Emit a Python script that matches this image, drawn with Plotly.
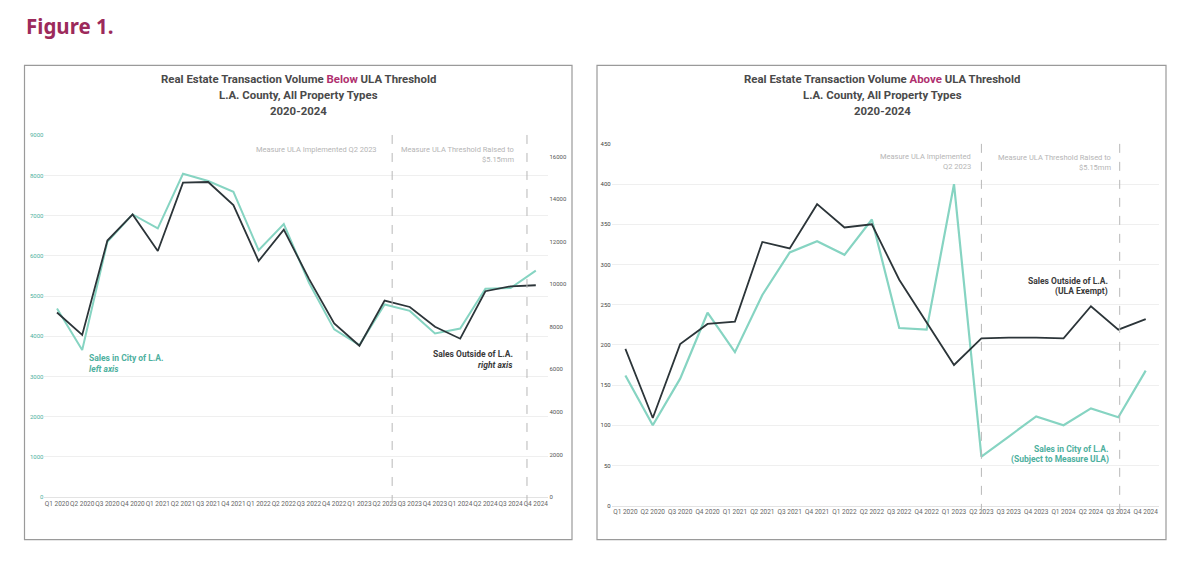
import plotly.graph_objects as go

W, H = 1200, 579
OFF = 8  # page body margin of the html page

quarters = [f"Q{q} {y}" for y in range(2020, 2025) for q in range(1, 5)]

# left chart: sales below threshold (city on left axis, outside on right axis)
below_city = [4690, 3660, 6350, 7030, 6680, 8040, 7860, 7590, 6140, 6790,
              5330, 4170, 3780, 4790, 4630, 4070, 4190, 5180, 5200, 5630]
below_outside = [8670, 7620, 12050, 13280, 11560, 14770, 14800, 13720, 11090, 12560,
                 10250, 8160, 7110, 9230, 8930, 8000, 7440, 9670, 9900, 9950]

# right chart: sales above threshold
above_city = [162, 100, 158, 240, 191, 262, 315, 329, 312, 356,
              221, 219, 400, 61, 86, 111, 100, 121, 110, 168]
above_outside = [195, 109, 201, 226, 229, 328, 320, 375, 346, 350,
                 281, 228, 175, 208, 209, 209, 208, 248, 219, 232]

left_ticks = list(range(0, 9001, 1000))
right_ticks = list(range(0, 16001, 2000))
above_ticks = list(range(0, 451, 50))

TEAL = "#86D4C2"
TEAL_TXT = "#4DB09E"
DARK = "#2C3539"
MAG = "#B0306F"
GREY_TXT = "#B5B5B5"
FONT = "Roboto"


def px(x):
    return (x - OFF) / W


def py(y):
    return 1 - (y - OFF) / H


fig = go.Figure()

fig.add_trace(go.Scatter(x=quarters, y=below_city, mode="lines",
                         line=dict(color=TEAL, width=2), xaxis="x", yaxis="y"))
fig.add_trace(go.Scatter(x=quarters, y=below_outside, mode="lines",
                         line=dict(color=DARK, width=1.8), xaxis="x", yaxis="y2"))
fig.add_trace(go.Scatter(x=quarters, y=above_city, mode="lines",
                         line=dict(color=TEAL, width=2.2), xaxis="x2", yaxis="y3"))
fig.add_trace(go.Scatter(x=quarters, y=above_outside, mode="lines",
                         line=dict(color=DARK, width=1.8), xaxis="x2", yaxis="y3"))

xcommon = dict(type="category", range=[-0.5, 19.5], tickangle=0,
               tickfont=dict(size=6.5, color="#666", family=FONT),
               showgrid=False, showline=True, linecolor="#e3e3e3",
               ticks="", zeroline=False)

fig.update_layout(
    width=W, height=H,
    margin=dict(l=0, r=0, t=0, b=0),
    paper_bgcolor="white", plot_bgcolor="white",
    showlegend=False,
    font=dict(family=FONT),
    xaxis=dict(domain=[px(44.4), px(548.4)], anchor="y", **xcommon),
    yaxis=dict(domain=[py(499), py(132.7)], range=[0, 9000], tickvals=left_ticks,
               tickfont=dict(size=6, color=TEAL_TXT, family=FONT),
               showgrid=True, gridcolor="#efefef", zeroline=False, ticks=""),
    yaxis2=dict(overlaying="y", side="right", anchor="x", range=[0, 17000],
                tickvals=right_ticks, tickformat="d",
                tickfont=dict(size=6, color="#555", family=FONT),
                showgrid=False, zeroline=False, ticks=""),
    xaxis2=dict(domain=[px(611.7), px(1159.4)], anchor="y3", **xcommon),
    yaxis3=dict(domain=[py(507.7), py(141.5)], anchor="x2", range=[0, 450],
                tickvals=above_ticks, tickfont=dict(size=6, color="#444", family=FONT),
                showgrid=True, gridcolor="#efefef", zeroline=False, ticks=""),
)

shapes = [
    # panel frames
    dict(type="rect", xref="paper", yref="paper", x0=px(24.5), x1=px(572),
         y0=py(542), y1=py(62), line=dict(color="#9a9a9a", width=1.2)),
    dict(type="rect", xref="paper", yref="paper", x0=px(597), x1=px(1166),
         y0=py(542), y1=py(62), line=dict(color="#9a9a9a", width=1.2)),
]
for xv in [13.3, 18.65]:
    shapes.append(dict(type="line", xref="x", yref="paper", x0=xv, x1=xv,
                       y0=py(506), y1=py(132), line=dict(color="#b8b8b8", width=1, dash="dash")))
for xv in [13, 18.05]:
    shapes.append(dict(type="line", xref="x2", yref="paper", x0=xv, x1=xv,
                       y0=py(515), y1=py(141), line=dict(color="#b8b8b8", width=1, dash="dash")))
fig.update_layout(shapes=shapes)

ann = []


def note(x, y, text, size, color, anchor="left", bold=False, italic=False, family=FONT):
    if bold:
        text = f"<b>{text}</b>"
    if italic:
        text = f"<i>{text}</i>"
    ann.append(dict(x=px(x), y=py(y), xref="paper", yref="paper", text=text,
                    showarrow=False, xanchor=anchor, yanchor="middle",
                    font=dict(size=size, color=color, family=family)))


note(24, 22, "Figure 1.", 20.5, "#9C2A5B", bold=True, family="Noto Sans")

# chart titles
for cx, word in [(298, "Below"), (882, "Above")]:
    note(cx, 76, f"Real Estate Transaction Volume <span style='color:{MAG}'>{word}</span> ULA Threshold",
         11.4, "#4a4a4a", anchor="center", bold=True)
    note(cx, 92, "L.A. County, All Property Types", 11.4, "#4a4a4a", anchor="center", bold=True)
    note(cx, 108, "2020-2024", 11.4, "#4a4a4a", anchor="center", bold=True)

# left chart notes
note(379, 147, "Measure ULA Implemented Q2 2023", 7.5, GREY_TXT, anchor="right")
note(516, 147, "Measure ULA Threshold Raised to", 7.5, GREY_TXT, anchor="right")
note(516, 157, "$5.15mm", 7.5, GREY_TXT, anchor="right")
note(87, 358, "Sales in City of L.A.", 8.5, TEAL_TXT, bold=True)
note(87, 369, "left axis", 8.5, TEAL_TXT, bold=True, italic=True)
note(515, 354, "Sales Outside of L.A.", 8.5, "#3a3a3a", anchor="right", bold=True)
note(515, 365, "right axis", 8.5, "#3a3a3a", anchor="right", bold=True, italic=True)

# right chart notes
note(973, 154, "Measure ULA Implemented", 7.5, GREY_TXT, anchor="right")
note(973, 164, "Q2 2023", 7.5, GREY_TXT, anchor="right")
note(1113, 155, "Measure ULA Threshold Raised to", 7.5, GREY_TXT, anchor="right")
note(1113, 165, "$5.15mm", 7.5, GREY_TXT, anchor="right")
note(1110, 280, "Sales Outside of L.A.", 8.5, "#3a3a3a", anchor="right", bold=True)
note(1110, 291, "(ULA Exempt)", 8.5, "#3a3a3a", anchor="right", bold=True)
note(1111, 450, "Sales in City of L.A.", 8.5, TEAL_TXT, anchor="right", bold=True)
note(1111, 461, "(Subject to Measure ULA)", 8.5, TEAL_TXT, anchor="right", bold=True)

fig.update_layout(annotations=ann)

fig.write_html("out.html")
